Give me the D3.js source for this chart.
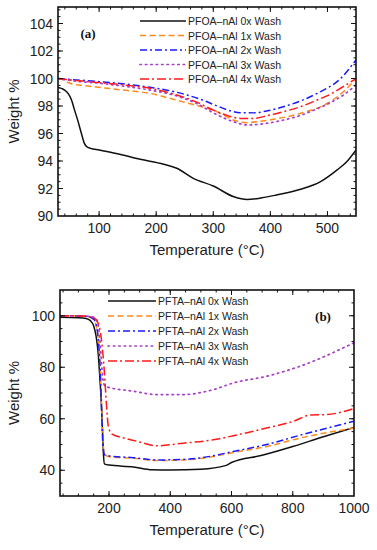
<!DOCTYPE html>
<html>
<head>
<meta charset="utf-8">
<script src="https://cdn.jsdelivr.net/npm/d3@7"></script>
<style>
  body { margin: 0; background: #fff; }
  svg { display: block; }
  text { font-family: "Liberation Sans", Arial, sans-serif; fill: #222; }
  text.tag { font-family: "Liberation Serif", "DejaVu Serif", serif; font-weight: bold; fill: #111; }
</style>
</head>
<body>
<div id="chart"></div>
<script>
const WIDTH = 377;
const HEIGHT = 550;

// series labels
const labelsA = ["PFOA\u2013nAl 0x Wash", "PFOA\u2013nAl 1x Wash", "PFOA\u2013nAl 2x Wash", "PFOA\u2013nAl 3x Wash", "PFOA\u2013nAl 4x Wash"];
const labelsB = ["PFTA\u2013nAl 0x Wash", "PFTA\u2013nAl 1x Wash", "PFTA\u2013nAl 2x Wash", "PFTA\u2013nAl 3x Wash", "PFTA\u2013nAl 4x Wash"];

const colors = ["#111111", "#ff8a1c", "#1a1aff", "#a640c4", "#ff1a1a"];
const dashes = [null, "6,3.5", "7,3,2,3", "1.4,4", "9,3,2,3"];

// panel (a): [temperature, weight %]
const a0x = [[28, 99.35], [38, 99.2], [46, 98.9], [52, 98.4], [57, 97.7], [63, 96.9], [69, 96.0], [74, 95.3], [78, 95.05], [85, 94.92], [100, 94.8], [130, 94.55], [172, 94.12], [213, 93.76], [236, 93.47], [265, 92.74], [300, 92.18], [336, 91.4], [359, 91.2], [385, 91.32], [411, 91.53], [453, 91.94], [488, 92.5], [517, 93.35], [535, 94.0], [550, 94.8]];
const a1x = [[28, 100], [40, 99.85], [49, 99.65], [70, 99.5], [102, 99.35], [150, 99.12], [189, 98.92], [220, 98.6], [247, 98.3], [275, 98.0], [300, 97.7], [320, 97.3], [335, 96.98], [359, 96.79], [380, 96.88], [405, 97.03], [453, 97.47], [500, 98.2], [528, 99.04], [550, 100.0]];
const a2x = [[28, 100], [60, 99.9], [102, 99.77], [150, 99.58], [189, 99.36], [225, 99.1], [254, 98.8], [280, 98.45], [307, 98.0], [330, 97.65], [347, 97.51], [370, 97.5], [395, 97.65], [423, 97.95], [455, 98.4], [482, 98.92], [523, 100.0], [550, 101.35]];
const a3x = [[28, 100], [60, 99.8], [102, 99.65], [150, 99.4], [189, 99.16], [240, 98.68], [270, 98.2], [300, 97.5], [320, 97.1], [335, 96.86], [360, 96.62], [390, 96.72], [423, 96.98], [455, 97.35], [482, 97.8], [510, 98.35], [528, 98.8], [550, 99.53]];
const a4x = [[28, 100], [60, 99.85], [102, 99.7], [150, 99.5], [189, 99.29], [240, 98.75], [270, 98.3], [300, 97.7], [325, 97.3], [347, 97.1], [370, 97.1], [395, 97.3], [423, 97.59], [455, 97.98], [482, 98.44], [505, 98.85], [523, 99.29], [550, 100.0]];
const seriesA = [a0x, a1x, a2x, a3x, a4x];

// panel (b): [temperature, weight %]
const b0x = [[40, 99.4], [100, 99.2], [125, 98.9], [140, 98.0], [150, 96.0], [158, 92.0], [165, 85.0], [170, 76.0], [175, 66.0], [179, 55.0], [182, 46.0], [185, 42.5], [200, 42.0], [280, 41.3], [340, 40.2], [400, 40.1], [500, 40.4], [580, 41.8], [600, 43.0], [700, 45.8], [800, 49.2], [900, 53.0], [1000, 56.6]];
const b1x = [[40, 100], [110, 99.9], [135, 99.5], [150, 98.5], [160, 95.0], [167, 88.0], [172, 78.0], [176, 65.0], [180, 52.0], [185, 46.5], [198, 45.3], [279, 44.7], [356, 43.8], [442, 44.0], [540, 45.3], [606, 46.9], [715, 49.2], [824, 52.5], [1000, 56.4]];
const b2x = [[40, 100], [110, 99.9], [135, 99.6], [150, 98.7], [160, 95.5], [167, 88.0], [172, 77.0], [176, 63.0], [180, 50.0], [186, 46.0], [198, 45.6], [279, 44.9], [356, 44.0], [442, 44.2], [540, 45.6], [606, 47.3], [715, 50.0], [824, 53.6], [1000, 59.0]];
const b3x = [[40, 100], [110, 99.9], [140, 99.7], [155, 99.2], [165, 96.0], [172, 88.0], [178, 78.0], [183, 73.5], [190, 72.5], [279, 70.7], [356, 69.4], [442, 69.4], [540, 71.3], [606, 73.9], [715, 76.5], [824, 80.4], [1000, 89.5]];
const b4x = [[40, 100], [120, 99.9], [150, 99.2], [165, 97.0], [175, 91.0], [185, 78.0], [192, 65.0], [198, 57.0], [210, 54.0], [250, 52.5], [300, 51.0], [356, 49.5], [442, 50.5], [540, 51.8], [606, 53.4], [715, 56.4], [802, 59.0], [860, 61.5], [910, 61.6], [950, 62.3], [1000, 64.0]];
const seriesB = [b0x, b1x, b2x, b3x, b4x];

const svg = d3.select("#chart")
    .append("svg")
    .attr("width", WIDTH)
    .attr("height", HEIGHT);

function drawPanel(cfg) {
    const x = d3.scaleLinear().domain(cfg.xDomain).range([cfg.left, cfg.right]);
    const y = d3.scaleLinear().domain(cfg.yDomain).range([cfg.bottom, cfg.top]);
    const g = svg.append("g");

    const clipId = "clip-" + cfg.name;
    g.append("clipPath").attr("id", clipId)
        .append("rect")
        .attr("x", cfg.left).attr("y", cfg.top)
        .attr("width", cfg.right - cfg.left).attr("height", cfg.bottom - cfg.top);

    const line = d3.line()
        .x(d => x(d[0]))
        .y(d => y(d[1]))
        .curve(d3.curveMonotoneX);

    // curves
    const curves = g.append("g").attr("clip-path", `url(#${clipId})`);
    cfg.series.forEach((s, i) => {
        curves.append("path")
            .attr("d", line(s))
            .attr("fill", "none")
            .attr("stroke", colors[i])
            .attr("stroke-width", i === 3 ? 1.7 : 1.5)
            .attr("stroke-linecap", i === 3 ? "round" : "butt")
            .attr("stroke-dasharray", dashes[i]);
    });

    // ticks inside on all four sides
    const tickG = g.append("g").attr("stroke", "#111").attr("stroke-width", 1);
    const addTicks = function (values, len, horizontal) {
        values.forEach(v => {
            if (horizontal) {
                const px = x(v);
                tickG.append("line").attr("x1", px).attr("x2", px).attr("y1", cfg.bottom).attr("y2", cfg.bottom - len);
                tickG.append("line").attr("x1", px).attr("x2", px).attr("y1", cfg.top).attr("y2", cfg.top + len);
            } else {
                const py = y(v);
                tickG.append("line").attr("x1", cfg.left).attr("x2", cfg.left + len).attr("y1", py).attr("y2", py);
                tickG.append("line").attr("x1", cfg.right).attr("x2", cfg.right - len).attr("y1", py).attr("y2", py);
            }
        });
    };
    const inDom = (v, dom) => v > dom[0] + 1e-9 && v < dom[1] - 1e-9;
    addTicks(d3.range(cfg.xMinorStart, cfg.xDomain[1] + 1e-9, cfg.xMinor).filter(v => inDom(v, cfg.xDomain)), 2.5, true);
    addTicks(cfg.xTicks.filter(v => inDom(v, cfg.xDomain)), 5, true);
    addTicks(d3.range(cfg.yDomain[0], cfg.yDomain[1] + 1e-9, cfg.yMinor).filter(v => inDom(v, cfg.yDomain)), 2.5, false);
    addTicks(cfg.yTicks.filter(v => inDom(v, cfg.yDomain)), 5, false);

    // frame
    g.append("rect")
        .attr("x", cfg.left).attr("y", cfg.top)
        .attr("width", cfg.right - cfg.left).attr("height", cfg.bottom - cfg.top)
        .attr("fill", "none").attr("stroke", "#111").attr("stroke-width", 1.6);

    // tick labels
    g.selectAll(".xl").data(cfg.xTicks).enter().append("text")
        .attr("x", d => x(d)).attr("y", cfg.bottom + 17)
        .attr("text-anchor", "middle").attr("font-size", 14)
        .text(d => d);
    g.selectAll(".yl").data(cfg.yTicks).enter().append("text")
        .attr("x", cfg.left - 5).attr("y", d => y(d) + 5)
        .attr("text-anchor", "end").attr("font-size", 14)
        .text(d => d);

    // axis titles
    g.append("text")
        .attr("x", (cfg.left + cfg.right) / 2).attr("y", cfg.bottom + 39)
        .attr("text-anchor", "middle").attr("font-size", 15)
        .text("Temperature (\u00B0C)");
    g.append("text")
        .attr("transform", `translate(19, ${(cfg.top + cfg.bottom) / 2}) rotate(-90)`)
        .attr("text-anchor", "middle").attr("font-size", 15)
        .text("Weight %");

    // legend
    const leg = g.append("g");
    cfg.labels.forEach((lab, i) => {
        const ly = cfg.legY + i * cfg.legStep;
        leg.append("line")
            .attr("x1", cfg.legX1).attr("x2", cfg.legX2)
            .attr("y1", ly).attr("y2", ly)
            .attr("stroke", colors[i])
            .attr("stroke-width", i === 3 ? 1.7 : 1.5)
            .attr("stroke-linecap", i === 3 ? "round" : "butt")
            .attr("stroke-dasharray", dashes[i]);
        leg.append("text")
            .attr("x", cfg.legX2 + 2).attr("y", ly + 4)
            .attr("font-size", 10.5).attr("fill", "#333")
            .text(lab);
    });

    // panel letter
    g.append("text")
        .attr("class", "tag")
        .attr("x", cfg.tagX).attr("y", cfg.tagY)
        .attr("font-size", 13)
        .attr("text-anchor", "middle")
        .text(cfg.tag);
}

drawPanel({
    name: "a", series: seriesA, labels: labelsA,
    left: 58, right: 356, top: 7, bottom: 216,
    xDomain: [28, 550], yDomain: [90, 105.2],
    xTicks: [100, 200, 300, 400, 500], xMinor: 20, xMinorStart: 40,
    yTicks: [90, 92, 94, 96, 98, 100, 102, 104], yMinor: 0.5,
    legX1: 140, legX2: 186, legY: 21, legStep: 14.5,
    tag: "(a)", tagX: 88, tagY: 38
});

drawPanel({
    name: "b", series: seriesB, labels: labelsB,
    left: 60, right: 354, top: 290, bottom: 496,
    xDomain: [40, 1000], yDomain: [30, 110],
    xTicks: [200, 400, 600, 800, 1000], xMinor: 50, xMinorStart: 50,
    yTicks: [40, 60, 80, 100], yMinor: 5,
    legX1: 108, legX2: 156, legY: 301, legStep: 15,
    tag: "(b)", tagX: 323, tagY: 321
});
</script>
</body>
</html>
